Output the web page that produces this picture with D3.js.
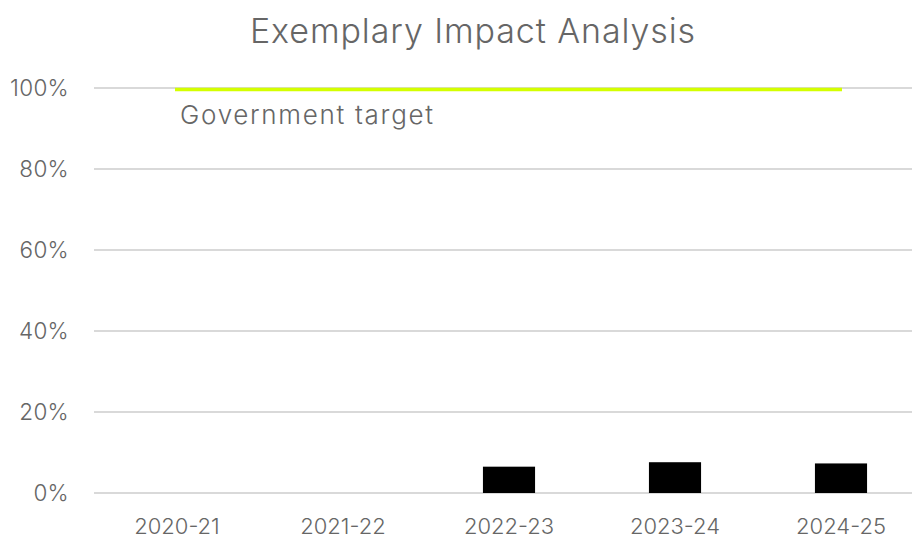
<!DOCTYPE html>
<html><head><meta charset="utf-8">
<script src="https://cdn.jsdelivr.net/npm/d3@7"></script>
<style>body{margin:0;background:#fff}svg{display:block}text{font-family:Inter,"Noto Sans",sans-serif;font-weight:300;fill:#666}</style>
</head><body><svg id="c" width="912" height="539"></svg>
<script>
const categories = ["2020-21","2021-22","2022-23","2023-24","2024-25"];
const values = [null, null, 6.5, 7.6, 7.3];
const target = 100;
const yTicks = [0,20,40,60,80,100];
const title = "Exemplary Impact Analysis";
const targetLabel = "Government target";

const svg = d3.select("#c");
const x = d3.scaleBand().domain(categories).range([94,924]).paddingInner(0.686).paddingOuter(0.343);
const y = d3.scaleLinear().domain([0,100]).range([493,88]);

svg.append("g").selectAll("line").data(yTicks).join("line")
  .attr("x1",94).attr("x2",912).attr("y1",d=>y(d)).attr("y2",d=>y(d))
  .attr("stroke","#d9d9d9").attr("stroke-width",2);

const yAxis = svg.append("g").attr("transform","translate(94,0)")
  .call(d3.axisLeft(y).tickValues(yTicks).tickFormat(d=>d+"%").tickSize(0).tickPadding(25));
yAxis.select(".domain").remove();
yAxis.selectAll("text").style("font-size","22.5px").style("letter-spacing","0.3px").attr("fill","#666").style("font-family","Inter,sans-serif").attr("dy","0.35em");

const xAxis = svg.append("g").attr("transform","translate(0,493)")
  .call(d3.axisBottom(x).tickSize(0).tickPadding(25));
xAxis.select(".domain").remove();
xAxis.selectAll("text").style("font-size","22px").attr("fill","#666").style("font-family","Inter,sans-serif");

svg.append("g").selectAll("rect").data(categories.map((c,i)=>({c,v:values[i]})).filter(d=>d.v!=null)).join("rect")
  .attr("x",d=>x(d.c)).attr("width",x.bandwidth())
  .attr("y",d=>y(d.v)).attr("height",d=>y(0)-y(d.v)).attr("fill","#000");

const c0 = x(categories[0])+x.bandwidth()/2, c1 = x(categories[categories.length-1])+x.bandwidth()/2;
svg.append("line").attr("x1",c0-2).attr("x2",c1+1).attr("y1",y(target)+1.5).attr("y2",y(target)+1.5)
  .attr("stroke","#d4ff00").attr("stroke-width",3.5);

svg.append("text").attr("x",c0+3).attr("y",124).style("font-size","26px").style("letter-spacing","1.7px").text(targetLabel);
svg.append("text").attr("x",473).attr("y",43).attr("text-anchor","middle").style("font-size","34px").style("letter-spacing","0.9px").text(title);
</script></body></html>
